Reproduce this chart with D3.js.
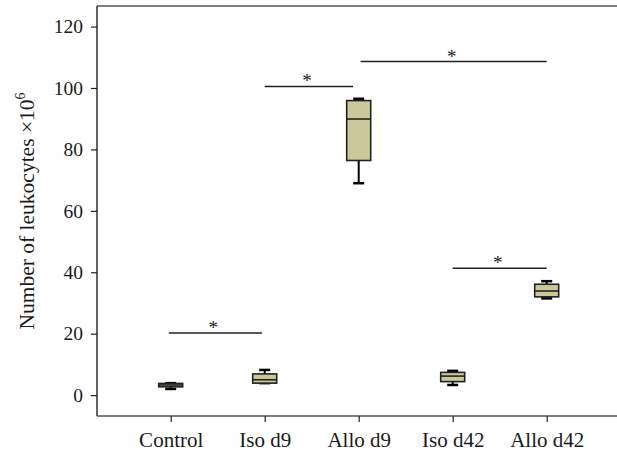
<!DOCTYPE html>
<html>

<head>
  <meta charset="utf-8">
  <title></title>
  <style>
    body { margin: 0; background: #fff; }
    text { font-family: "Liberation Serif", "Times New Roman", serif; fill: #1a1a1a; }
  </style>
</head>

<body>

  <script src="https://cdnjs.cloudflare.com/ajax/libs/d3/7.8.5/d3.min.js" charset="utf-8"></script>
  <script type="text/javascript">
    // groups along the x axis
    var categories = ["Control", "Iso d9", "Allo d9", "Iso d42", "Allo d42"];
    // box plot statistics
    var lowerWhisker = [2.0, 3.9, 69.0, 3.3, 31.5];
    var q1 = [2.7, 3.9, 76.4, 4.4, 32.0];
    var median = [3.3, 5.0, 89.9, 6.2, 33.9];
    var q3 = [3.8, 6.9, 95.9, 7.4, 36.1];
    var upperWhisker = [3.9, 8.2, 96.5, 7.9, 37.1];
    var yTicks = [0, 20, 40, 60, 80, 100, 120];
    // significance bars: start / end in category index units, height in data units
    var sigFrom = [-0.02, 1.0, 2.02, 3.0];
    var sigTo = [0.97, 1.94, 4.0, 4.0];
    var sigLevel = [20.2, 100.5, 108.6, 41.3];

    var width = 617;
    var height = 454;
    var mLeft = 97, mTop = 6, mBottom = 416;

    var svg = d3.select('body')
      .append("svg")
      .attr("width", width)
      .attr("height", height);

    var y = d3.scaleLinear().domain([-6.8, 126.7]).range([mBottom, mTop]);
    var x = d3.scaleLinear().domain([0, 4]).range([170.7, 546.7]);

    var boxes = categories.map(function(c, i) {
      return { name: c, i: i, lo: lowerWhisker[i], q1: q1[i], med: median[i], q3: q3[i], hi: upperWhisker[i] };
    });

    // frame
    svg.append("line")
      .attr("x1", mLeft).attr("x2", width)
      .attr("y1", mTop).attr("y2", mTop)
      .attr("stroke", "#555").attr("stroke-width", 1.6);

    var yAxis = svg.append("g")
      .attr("transform", "translate(" + mLeft + ",0)")
      .call(d3.axisLeft(y).tickValues(yTicks).tickSize(6).tickPadding(8).tickFormat(d3.format("d")));
    yAxis.select(".domain").attr("stroke", "#222").attr("stroke-width", 1.4)
      .attr("d", "M0," + mTop + "V" + mBottom);
    yAxis.selectAll(".tick line").attr("stroke", "#222").attr("stroke-width", 1.2);
    yAxis.selectAll(".tick text").style("font-size", "19.5px").attr("fill", "#1a1a1a")
      .style("font-family", "Liberation Serif, serif");

    var xAxis = svg.append("g")
      .attr("transform", "translate(0," + mBottom + ")")
      .call(d3.axisBottom(x).tickValues(d3.range(categories.length)).tickSize(6).tickPadding(10)
        .tickFormat(function(d) { return categories[d]; }));
    xAxis.select(".domain").attr("stroke", "#555").attr("stroke-width", 1.6)
      .attr("d", "M" + mLeft + ",0H" + width);
    xAxis.selectAll(".tick line").attr("stroke", "#222").attr("stroke-width", 1.2);
    xAxis.selectAll(".tick text").style("font-size", "21px").attr("fill", "#1a1a1a")
      .style("font-family", "Liberation Serif, serif");

    // y label
    var ylab = svg.append("text")
      .attr("transform", "translate(34," + 211 + ") rotate(-90)")
      .attr("text-anchor", "middle")
      .style("font-size", "21.5px");
    ylab.append("tspan").text("Number of leukocytes \u00d710");
    ylab.append("tspan").attr("dy", -9).style("font-size", "14px").text("6");

    // boxes
    var boxW = 24, capW = 11;
    var g = svg.selectAll("g.box").data(boxes).enter().append("g").attr("class", "box");

    g.append("line")
      .attr("x1", function(d) { return x(d.i); })
      .attr("x2", function(d) { return x(d.i); })
      .attr("y1", function(d) { return y(d.hi); })
      .attr("y2", function(d) { return y(d.lo); })
      .attr("stroke", "#000").attr("stroke-width", 2);
    g.selectAll("line.cap").data(function(d) { return [{ i: d.i, v: d.hi }, { i: d.i, v: d.lo }]; })
      .enter().append("line")
      .attr("class", "cap")
      .attr("x1", function(d) { return x(d.i) - capW / 2; })
      .attr("x2", function(d) { return x(d.i) + capW / 2; })
      .attr("y1", function(d) { return y(d.v); })
      .attr("y2", function(d) { return y(d.v); })
      .attr("stroke", "#000").attr("stroke-width", 2.5);
    g.append("rect")
      .attr("x", function(d) { return x(d.i) - boxW / 2; })
      .attr("y", function(d) { return y(d.q3); })
      .attr("width", boxW)
      .attr("height", function(d) { return y(d.q1) - y(d.q3); })
      .attr("fill", "#cbc99c").attr("stroke", "#222").attr("stroke-width", 1.6);
    g.append("line")
      .attr("x1", function(d) { return x(d.i) - boxW / 2; })
      .attr("x2", function(d) { return x(d.i) + boxW / 2; })
      .attr("y1", function(d) { return y(d.med); })
      .attr("y2", function(d) { return y(d.med); })
      .attr("stroke", "#222").attr("stroke-width", 1.6);

    // significance bars
    var sig = svg.selectAll("g.sig").data(sigLevel).enter().append("g").attr("class", "sig");
    sig.append("line")
      .attr("x1", function(d, i) { return x(sigFrom[i]); })
      .attr("x2", function(d, i) { return x(sigTo[i]); })
      .attr("y1", function(d) { return y(d); })
      .attr("y2", function(d) { return y(d); })
      .attr("stroke", "#222").attr("stroke-width", 1.5);
    sig.append("text")
      .attr("x", function(d, i) { return (x(sigFrom[i]) + x(sigTo[i])) / 2 - 2; })
      .attr("y", function(d) { return y(d) + 1; })
      .attr("text-anchor", "middle")
      .style("font-size", "19px")
      .text("*");
  </script>
</body>

</html>
